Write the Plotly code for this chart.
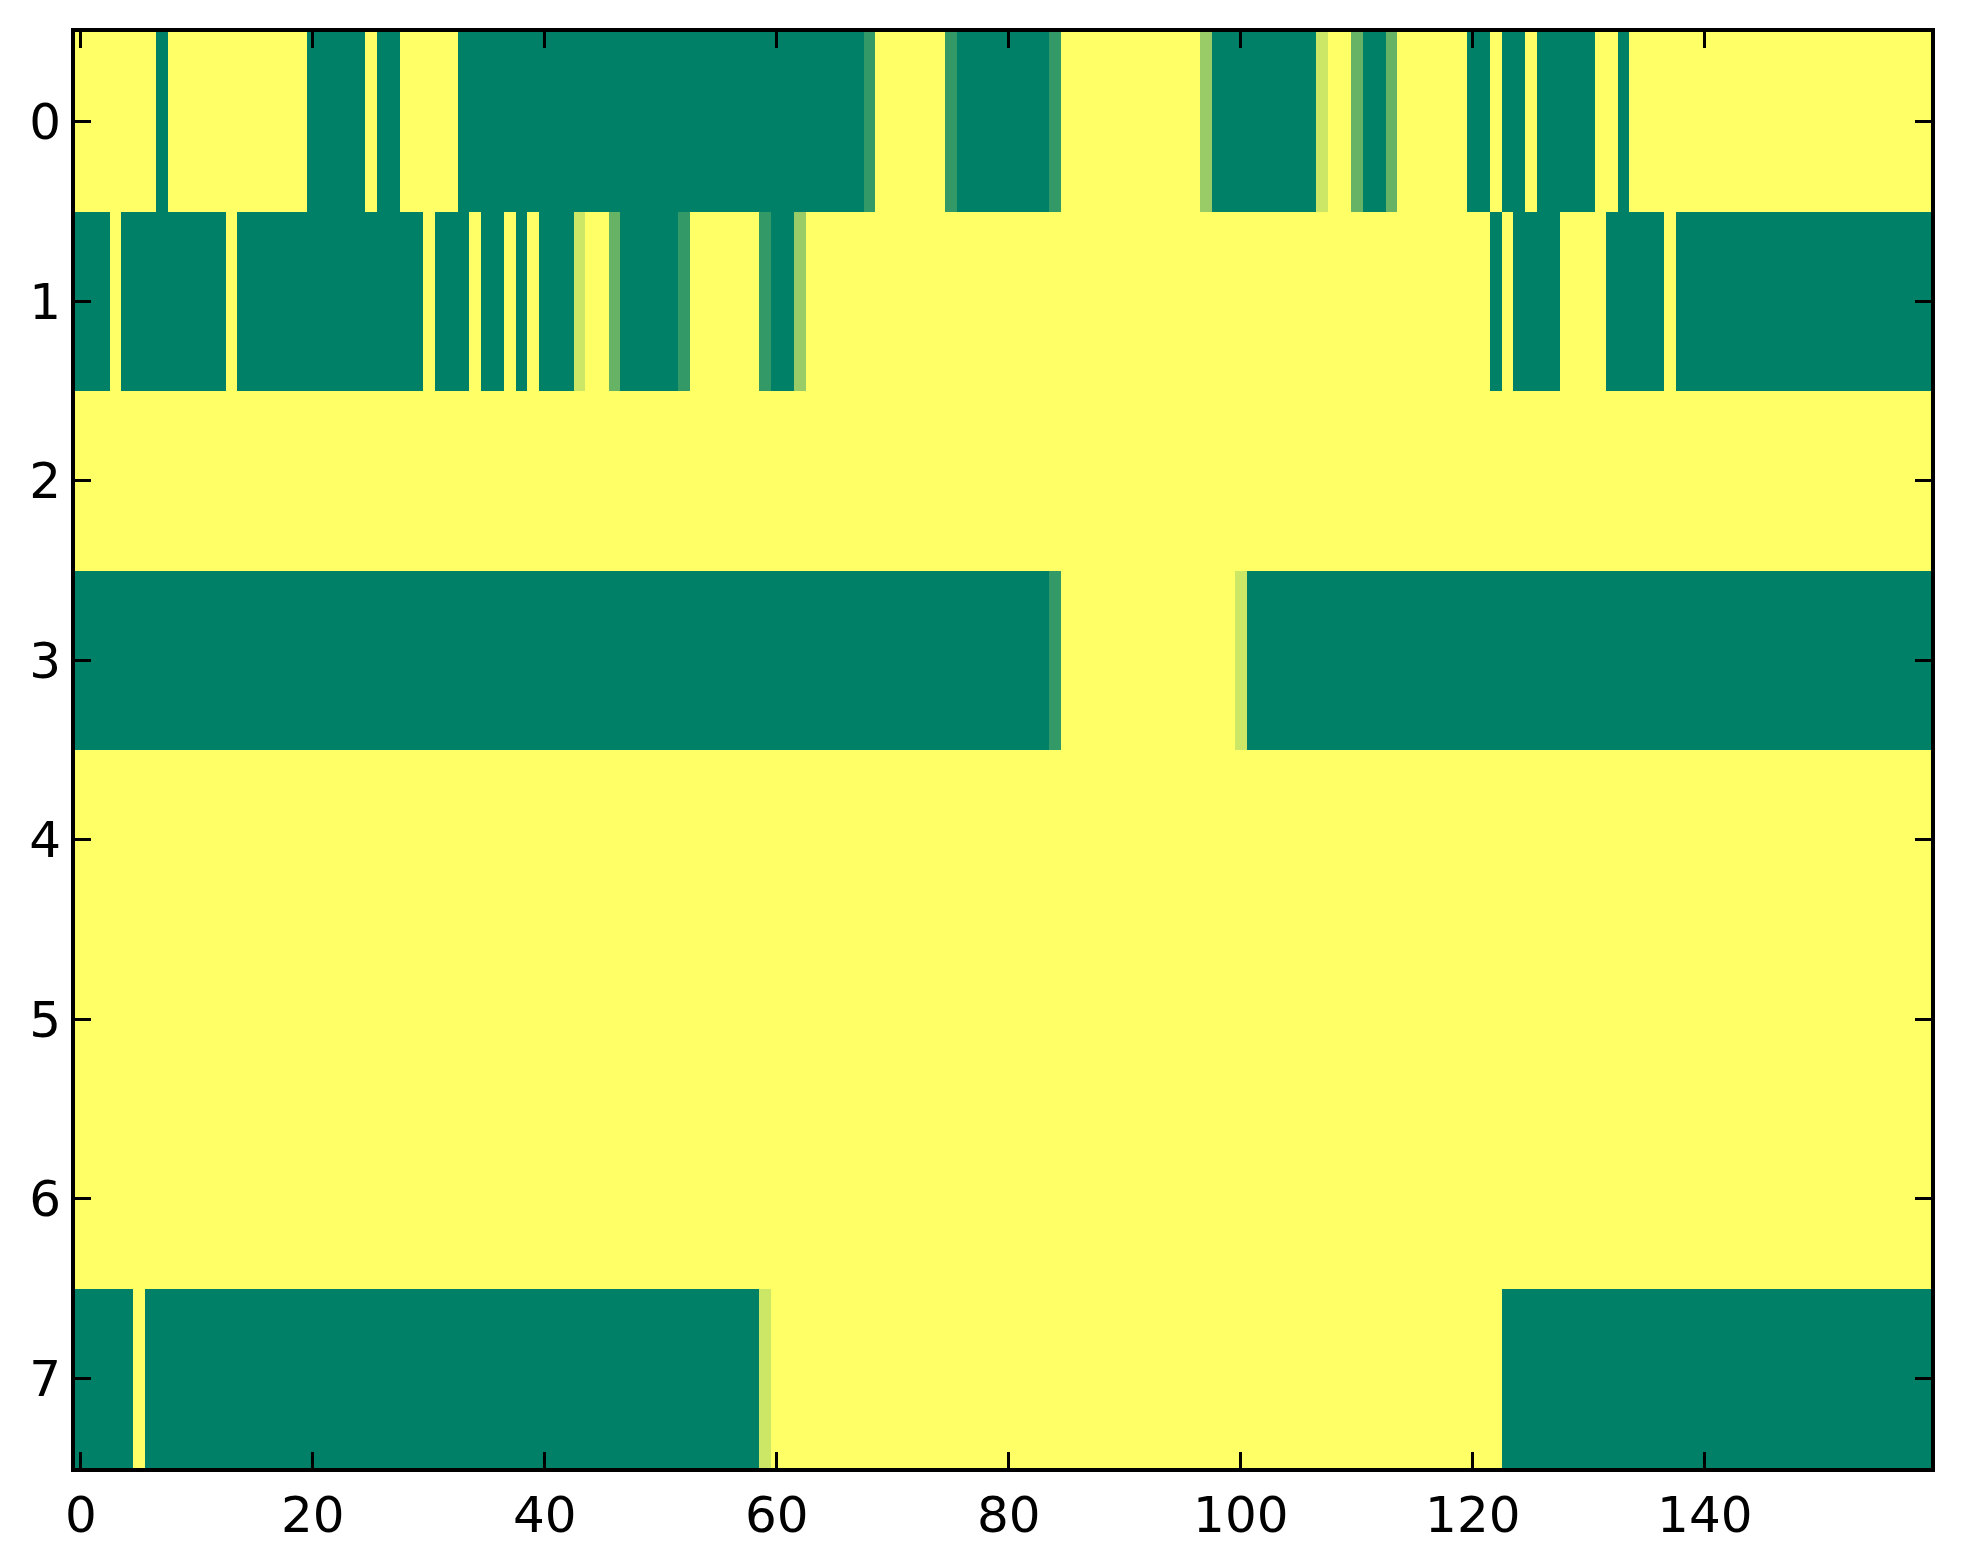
import plotly.graph_objects as go

# each row is a run-length list of (value, count), 160 columns total
# values: 0 = dark green, 1 = yellow (matplotlib "summer")
ROW_0 = [(1, 7), (0, 1), (1, 12), (0, 5), (1, 1), (0, 2), (1, 5), (0, 35), (0.2, 1),
         (1, 6), (0.2, 1), (0, 8), (0.2, 1), (1, 12), (0.6, 1), (0, 9), (0.8, 1),
         (1, 2), (0.4, 1), (0, 2), (0.4, 1), (1, 6), (0, 2), (1, 1), (0, 2), (1, 1),
         (0, 5), (1, 2), (0, 1), (1, 26)]
ROW_1 = [(0, 3), (1, 1), (0, 9), (1, 1), (0, 16), (1, 1), (0, 3), (1, 1), (0, 2),
         (1, 1), (0, 1), (1, 1), (0, 3), (0.8, 1), (1, 2), (0.4, 1), (0, 5), (0.2, 1),
         (1, 6), (0.2, 1), (0, 2), (0.6, 1), (1, 59), (0, 1), (1, 1), (0, 4), (1, 4),
         (0, 5), (1, 1), (0, 22)]
ROW_2 = [(1, 160)]
ROW_3 = [(0, 84), (0.2, 1), (1, 15), (0.8, 1), (0, 59)]
ROW_4 = [(1, 160)]
ROW_5 = [(1, 160)]
ROW_6 = [(1, 160)]
ROW_7 = [(0, 5), (1, 1), (0, 53), (0.8, 1), (1, 63), (0, 37)]

X_TICKS = [0, 20, 40, 60, 80, 100, 120, 140]
Y_TICKS = [0, 1, 2, 3, 4, 5, 6, 7]


def expand(runs):
    out = []
    for val, n in runs:
        out.extend([val] * n)
    return out


z = [expand(r) for r in (ROW_0, ROW_1, ROW_2, ROW_3, ROW_4, ROW_5, ROW_6, ROW_7)]

fig = go.Figure(go.Heatmap(
    z=z,
    colorscale=[[0, "#008066"], [1, "#ffff66"]],
    zmin=0, zmax=1,
    showscale=False,
    hoverinfo="skip",
))

axis_style = dict(
    ticks="inside", ticklen=16, tickwidth=2.5, tickcolor="black",
    showline=True, linecolor="black", linewidth=4, mirror="ticks",
    showgrid=False, zeroline=False,
    tickfont=dict(family="DejaVu Sans", size=50, color="black"),
)

fig.update_xaxes(range=[-0.5, 159.5], tickvals=X_TICKS, **axis_style)
fig.update_yaxes(range=[7.5, -0.5], tickvals=Y_TICKS, **axis_style)

fig.update_layout(
    width=1963, height=1564,
    margin=dict(l=67, r=40, t=24, b=104),
    paper_bgcolor="white", plot_bgcolor="white",
)

fig.write_html("out.html")
